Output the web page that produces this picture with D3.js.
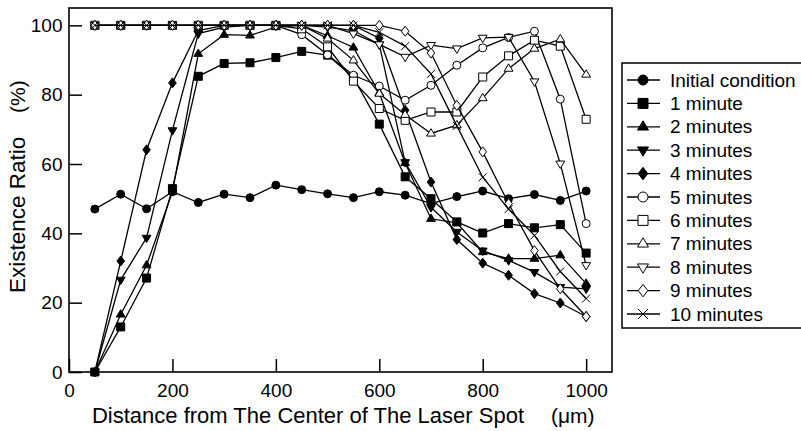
<!DOCTYPE html>
<html>
<head>
<meta charset="utf-8">
<script src="https://cdn.jsdelivr.net/npm/d3@7"></script>
<style>
  body { margin: 0; background: #fff; }
  text { font-family: "Liberation Sans", Arial, Helvetica, sans-serif; fill: #000; }
</style>
</head>
<body>
<div id="chart"></div>
<script>
/* global d3 */

// Distances from the laser spot centre (um)
const distances = [50, 100, 150, 200, 250, 300, 350, 400, 450, 500,
  550, 600, 650, 700, 750, 800, 850, 900, 950, 1000];

const seriesNames = ["Initial condition", "1 minute", "2 minutes", "3 minutes",
  "4 minutes", "5 minutes", "6 minutes", "7 minutes", "8 minutes",
  "9 minutes", "10 minutes"];

// Existence ratio (%) per series
const initialCondition = [47, 51.3, 47.1, 52, 48.9, 51.3, 50.3, 53.9, 52.6, 51.4,
  50.3, 52, 51, 48.6, 50.6, 52.2, 50, 51.2, 49.5, 52.2];
const oneMinute = [0, 13, 27.1, 52.9, 85.3, 89, 89.2, 90.7, 92.5, 91.4,
  85, 71.5, 56.3, 50, 43.3, 40.1, 42.8, 41.6, 42.5, 34.3];
const twoMinutes = [0, 16.6, 30.8, 52, 91.8, 97.3, 97.1, 99.5, 100, 97,
  93.6, 80.5, 60.3, 44.2, 43, 34.6, 32.7, 32.7, 33.7, 25.5];
const threeMinutes = [0, 26.6, 38.7, 69.7, 97.6, 99.5, 100, 100, 100, 99.5,
  98.5, 94.5, 60.5, 47.5, 40.4, 35, 32.2, 28.8, 24.5, 24];
const fourMinutes = [0, 32, 64.1, 83.4, 98.5, 100, 100, 100, 100, 100,
  100, 96.3, 75.5, 54.8, 38.2, 31.4, 27.9, 22.6, 19.9, 16];
const fiveMinutes = [100, 100, 100, 100, 100, 100, 100, 100, 97.3, 91.5,
  85.6, 82.5, 78.4, 82.7, 88.5, 93.5, 96.5, 98.3, 78.7, 42.8];
const sixMinutes = [100, 100, 100, 100, 100, 100, 100, 100, 99, 93.8,
  83.9, 76, 72.6, 75, 75, 85.1, 91.2, 95.7, 94, 72.9];
const sevenMinutes = [100, 100, 100, 100, 100, 100, 100, 100, 100, 96.2,
  89.9, 80.3, 74.2, 68.8, 71.2, 79, 87.5, 93.3, 96, 85.8];
const eightMinutes = [100, 100, 100, 100, 100, 100, 100, 100, 100, 100,
  97.6, 94.5, 90.9, 94.3, 93.3, 96.4, 96.6, 83.8, 60.1, 30.8];
const nineMinutes = [100, 100, 100, 100, 100, 100, 100, 100, 100, 100,
  100, 100, 98.3, 92, 76.9, 63.5, 48.6, 35, 24, 16];
const tenMinutes = [100, 100, 100, 100, 100, 100, 100, 100, 100, 100,
  100, 98, 94, 86, 71, 56.2, 47, 39.4, 29, 21.2];

const xTicks = [0, 200, 400, 600, 800, 1000];
const yTicks = [0, 20, 40, 60, 80, 100];

const allSeries = [initialCondition, oneMinute, twoMinutes, threeMinutes,
  fourMinutes, fiveMinutes, sixMinutes, sevenMinutes, eightMinutes,
  nineMinutes, tenMinutes];

// Marker shape and fill for each series
const markerShapes = ["circle", "square", "triUp", "triDown", "diamond",
  "circle", "square", "triUp", "triDown", "diamond", "cross"];
const markerFilled = [true, true, true, true, true,
  false, false, false, false, false, false];

const width = 801;
const height = 431;
const plot = { left: 69, top: 8, right: 612, bottom: 372 };

const svg = d3
  .select("#chart")
  .append("svg")
  .attr("width", width)
  .attr("height", height);

const x = d3.scaleLinear().domain([0, 1050]).range([plot.left, plot.right]);
const y = d3.scaleLinear().domain([0, 105]).range([plot.bottom, plot.top]);

// Build a marker path of half-size r
function markerPath(shape, r) {
  switch (shape) {
    case "circle":
      return d3.symbol(d3.symbolCircle, Math.PI * r * r)();
    case "square":
      return `M${-r},${-r}h${2 * r}v${2 * r}h${-2 * r}Z`;
    case "triUp":
      return `M0,${-r * 1.2}L${r * 1.1},${r * 0.65}L${-r * 1.1},${r * 0.65}Z`;
    case "triDown":
      return `M0,${r * 1.2}L${r * 1.1},${-r * 0.65}L${-r * 1.1},${-r * 0.65}Z`;
    case "diamond":
      return `M0,${-r * 1.25}L${r * 0.95},0L0,${r * 1.25}L${-r * 0.95},0Z`;
    default:
      return `M${-r},${-r}L${r},${r}M${-r},${r}L${r},${-r}`;
  }
}

// Frame
svg
  .append("rect")
  .attr("x", plot.left)
  .attr("y", plot.top)
  .attr("width", plot.right - plot.left)
  .attr("height", plot.bottom - plot.top)
  .attr("fill", "none")
  .attr("stroke", "#000")
  .attr("stroke-width", 1.6);

// Axes with inward ticks
const xAxis = svg
  .append("g")
  .attr("transform", `translate(0,${plot.bottom})`)
  .call(
    d3.axisBottom(x)
      .tickValues(xTicks)
      .tickFormat(d3.format("d"))
      .tickSizeInner(-13)
      .tickSizeOuter(0)
      .tickPadding(11.5)
  );
xAxis.select(".domain").remove();
xAxis.selectAll("line").attr("stroke-width", 1.5);
xAxis.selectAll("text").style("font-size", "19px").style("font-family", "Liberation Sans, Arial, sans-serif");

const yAxis = svg
  .append("g")
  .attr("transform", `translate(${plot.left},0)`)
  .call(
    d3.axisLeft(y)
      .tickValues(yTicks)
      .tickFormat(d3.format("d"))
      .tickSizeInner(-13)
      .tickSizeOuter(0)
      .tickPadding(6.5)
  );
yAxis.select(".domain").remove();
yAxis.selectAll("line").attr("stroke-width", 1.5);
yAxis.selectAll("text").style("font-size", "19px").style("font-family", "Liberation Sans, Arial, sans-serif");

// Axis titles
svg
  .append("text")
  .attr("x", 308)
  .attr("y", 423)
  .attr("text-anchor", "middle")
  .style("font-size", "22px")
  .text("Distance from The Center of The Laser Spot");
svg
  .append("text")
  .attr("x", 551)
  .attr("y", 423)
  .style("font-size", "21px")
  .text("(\u03bcm)");

svg
  .append("text")
  .attr("transform", "translate(25,293) rotate(-90)")
  .style("font-size", "22.5px")
  .text("Existence Ratio");
svg
  .append("text")
  .attr("transform", "translate(25,113) rotate(-90)")
  .style("font-size", "21px")
  .text("(%)");

// Lines and markers
const line = d3
  .line()
  .x((d, i) => x(distances[i]))
  .y((d) => y(d));

const seriesGroups = svg
  .selectAll("g.series")
  .data(allSeries)
  .enter()
  .append("g")
  .attr("class", "series");

seriesGroups
  .append("path")
  .attr("d", (d) => line(d))
  .attr("fill", "none")
  .attr("stroke", "#000")
  .attr("stroke-width", 1.3);

seriesGroups.each(function (values, s) {
  d3.select(this)
    .selectAll("path.marker")
    .data(values)
    .enter()
    .append("path")
    .attr("class", "marker")
    .attr("transform", (d, i) => `translate(${x(distances[i])},${y(d)})`)
    .attr("d", markerPath(markerShapes[s], 4))
    .attr("fill", markerFilled[s] ? "#000" : "#fff")
    .attr("stroke", "#000")
    .attr("stroke-width", 1);
});

// Legend
const legend = { left: 622, top: 63, bottom: 328, rowY: 80, rowStep: 23.4 };

svg
  .append("rect")
  .attr("x", legend.left)
  .attr("y", legend.top)
  .attr("width", 200)
  .attr("height", legend.bottom - legend.top)
  .attr("fill", "#fff")
  .attr("stroke", "#000")
  .attr("stroke-width", 1.5);

const legendItems = svg
  .selectAll("g.legend-item")
  .data(seriesNames)
  .enter()
  .append("g")
  .attr("class", "legend-item")
  .attr("transform", (d, i) => `translate(0,${legend.rowY + i * legend.rowStep})`);

legendItems
  .append("line")
  .attr("x1", 627)
  .attr("x2", 660)
  .attr("stroke", "#000")
  .attr("stroke-width", 1.3);

legendItems
  .append("path")
  .attr("transform", "translate(643,0)")
  .attr("d", (d, i) => markerPath(markerShapes[i], 5))
  .attr("fill", (d, i) => (markerFilled[i] ? "#000" : "#fff"))
  .attr("stroke", "#000")
  .attr("stroke-width", 1);

legendItems
  .append("text")
  .attr("x", 670)
  .attr("y", 6.5)
  .style("font-size", "19px")
  .text((d) => d);
</script>
</body>
</html>
